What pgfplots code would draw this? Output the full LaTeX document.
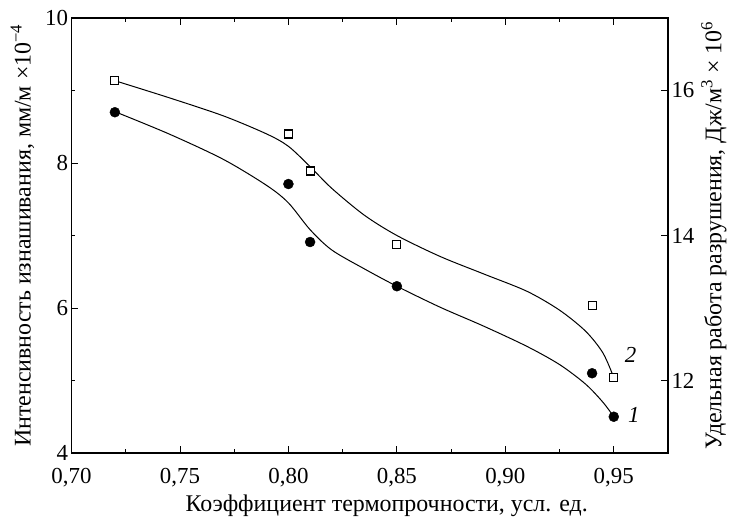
\documentclass[border=0pt]{standalone}
\usepackage{fontspec}
\setmainfont{Liberation Serif}
\usepackage{pgfplots}
\pgfplotsset{compat=1.18}
\usetikzlibrary{calc}
\newcommand{\fs}{\fontsize{23}{27}\selectfont}
\newcommand{\fl}{\fontsize{24}{28}\selectfont}
\begin{document}
\begin{tikzpicture}
\pgfplotsset{
  common/.style={
    scale only axis, width=596.5bp, height=435bp,
    xmin=0.70, xmax=0.975,
    tick align=inside,
    major tick length=7bp, minor tick length=4bp,
    every tick/.style={line width=0.9pt, black},
    axis line style={line width=1.3pt},
    /pgf/number format/assume math mode=true,
    tick label style={font=\fs},
    label style={font=\fl},
  }
}
\begin{axis}[common, name=ax,
  ymin=4, ymax=10,
  xtick={0.70,0.75,0.80,0.85,0.90,0.95},
  minor xtick={0.725,0.775,0.825,0.875,0.925},
  ytick={4,6,8,10}, minor ytick={5,7,9},
  xtick pos=both, xticklabel pos=lower,
  ytick pos=left,
  xticklabel style={yshift=-12bp, /pgf/number format/.cd, fixed, fixed zerofill, precision=2, use comma},
  xlabel={Коэффициент термопрочности, усл. ед.},
  xlabel style={xshift=17bp, yshift=-1bp},
  ylabel={Интенсивность изнашивания, мм/м ×10\textsuperscript{−4}},
  ylabel style={yshift=4bp},
]
\addplot[smooth, black, line width=1pt, no marks] coordinates {
(0.72,8.708) (0.745,8.40) (0.77,8.05) (0.79,7.69) (0.80,7.45) (0.81,7.08)
(0.82,6.80) (0.835,6.54) (0.85,6.30) (0.87,6.01) (0.89,5.75) (0.91,5.47)
(0.925,5.22) (0.937,4.95) (0.945,4.70) (0.95,4.50)};
\addplot[only marks, mark=*, mark size=5bp, black] coordinates {
(0.72,8.70) (0.80,7.71) (0.81,6.91) (0.85,6.30) (0.94,5.10) (0.95,4.50)};
\node[font=\fs\itshape, anchor=west] at (axis cs:0.955,4.52) {1};
\end{axis}
\begin{axis}[common,
  ymin=11, ymax=17,
  hide x axis,
  axis y line*=right,
  ytick={12,14,16},
  ylabel={Удельная работа разрушения, Дж/м\textsuperscript{3} × 10\textsuperscript{6}},
]
\addplot[smooth, black, line width=1pt, no marks] coordinates {
(0.72,16.135) (0.745,15.90) (0.77,15.65) (0.79,15.40) (0.80,15.23) (0.81,14.95)
(0.82,14.65) (0.835,14.28) (0.85,14.00) (0.87,13.71) (0.89,13.47) (0.91,13.23)
(0.925,12.97) (0.937,12.68) (0.945,12.38) (0.95,12.04)};
\addplot[only marks, mark=square*, mark size=4bp, mark options={fill=white, draw=black, line width=1.1pt}] coordinates {
(0.72,16.14) (0.80,15.40) (0.81,14.89) (0.85,13.88) (0.94,13.03) (0.95,12.04)};
\node[font=\fs\itshape, anchor=west] at (axis cs:0.9535,12.35) {2};
\end{axis}
\pgfresetboundingbox
\path ($(ax.south west)+(-71.5bp,-65bp)$) rectangle ($(ax.north east)+(67bp,18bp)$);
\end{tikzpicture}
\end{document}
